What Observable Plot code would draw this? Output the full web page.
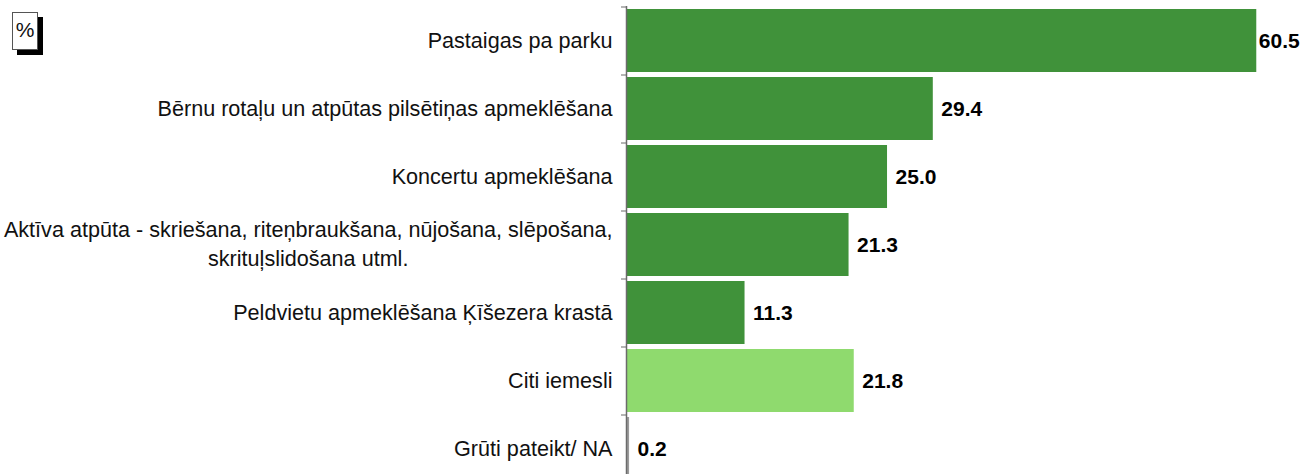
<!DOCTYPE html>
<html><head><meta charset="utf-8">
<script src="https://cdn.jsdelivr.net/npm/d3@7"></script>
<script src="https://cdn.jsdelivr.net/npm/@observablehq/plot@0.6"></script>
<style>
html,body{margin:0;padding:0;background:#fff;overflow:hidden;}
#wrap{position:relative;width:1301px;height:474px;overflow:hidden;}
#wrap svg{position:absolute;left:0;top:0;}
#pct{position:absolute;left:12px;top:12px;width:24px;height:36px;border:1px solid #555;background:#fff;box-shadow:5px 5px 0 #000;font:21px "Liberation Sans",Arial,sans-serif;text-align:center;line-height:34px;z-index:2;color:#111;}
</style></head><body><div id="wrap"><div id="pct">%</div></div>
<script>
const categories = [
  "Pastaigas pa parku",
  "B\u0113rnu rota\u013Cu un atp\u016Btas pils\u0113ti\u0146as apmekl\u0113\u0161ana",
  "Koncertu apmekl\u0113\u0161ana",
  "Akt\u012Bva atp\u016Bta - skrie\u0161ana, rite\u0146brauk\u0161ana, n\u016Bjo\u0161ana, sl\u0113po\u0161ana,\nskritu\u013Cslido\u0161ana utml.",
  "Peldvietu apmekl\u0113\u0161ana \u0136\u012B\u0161ezera krast\u0101",
  "Citi iemesli",
  "Gr\u016Bti pateikt/ NA"
];
const values = [60.5, 29.4, 25.0, 21.3, 11.3, 21.8, 0.2];
const groups = ["main", "main", "main", "main", "main", "other", "na"];
const groupNames = ["main", "other", "na"];
const groupColors = ["#40923a", "#8fda6e", "#9a9a9a"];

const W = 1301, H = 474, mTop = 6, mBottom = -8;
const step = (H - mTop - mBottom) / categories.length;
const labelFont = 21.6, lineGap = 29, labelDx = -15;
const data = categories.map((c, i) => ({c, v: values[i], g: groups[i], lines: c.split("\n")}));
const vmax = d3.max(values);
const single = data.filter(d => d.lines.length === 1);
const multi = data.filter(d => d.lines.length > 1);

const ctx = document.createElement("canvas").getContext("2d");
ctx.font = `${labelFont}px "Liberation Sans", Arial, sans-serif`;
const w1 = multi.length ? ctx.measureText(multi[0].lines[0]).width : 0;

const plot = Plot.plot({
  width: W, height: H,
  marginLeft: 627, marginRight: 0, marginTop: mTop, marginBottom: mBottom,
  style: {fontFamily: '"Liberation Sans", Arial, sans-serif', background: "white", overflow: "visible"},
  x: {domain: [0, 64.8], axis: null},
  y: {domain: categories, paddingInner: 0.08, paddingOuter: 0.04, axis: null},
  color: {domain: groupNames, range: groupColors},
  marks: [
    Plot.barX(data, {x: "v", y: "c", fill: "g"}),
    Plot.ruleX([0], {stroke: "#6b6b6b", strokeWidth: 1.5, dx: -1}),
    Plot.axisY({tickSize: 5, tickFormat: () => "", label: null, dy: -step / 2, dx: -1, stroke: "#6b6b6b"}),
    Plot.text(single, {x: 0, y: "c", text: d => d.lines[0], textAnchor: "end", dx: labelDx, fontSize: labelFont, fill: "#111"}),
    Plot.text(multi, {x: 0, y: "c", text: d => d.lines[0], textAnchor: "end", dx: labelDx, dy: -lineGap / 2, fontSize: labelFont, fill: "#111"}),
    Plot.text(multi, {x: 0, y: "c", text: d => d.lines[1], textAnchor: "middle", dx: labelDx - w1 / 2, dy: lineGap / 2, fontSize: labelFont, fill: "#111"}),
    Plot.text(data.filter(d => d.v < vmax), {x: "v", y: "c", text: d => d.v.toFixed(1), textAnchor: "start", dx: 8, fontSize: 21, fontWeight: "bold", fill: "#000"}),
    Plot.text(data.filter(d => d.v === vmax), {x: "v", y: "c", text: d => d.v.toFixed(1), textAnchor: "start", dx: 2, fontSize: 21, fontWeight: "bold", fill: "#000"})
  ]
});
document.getElementById("wrap").appendChild(plot);
</script>
</body></html>
